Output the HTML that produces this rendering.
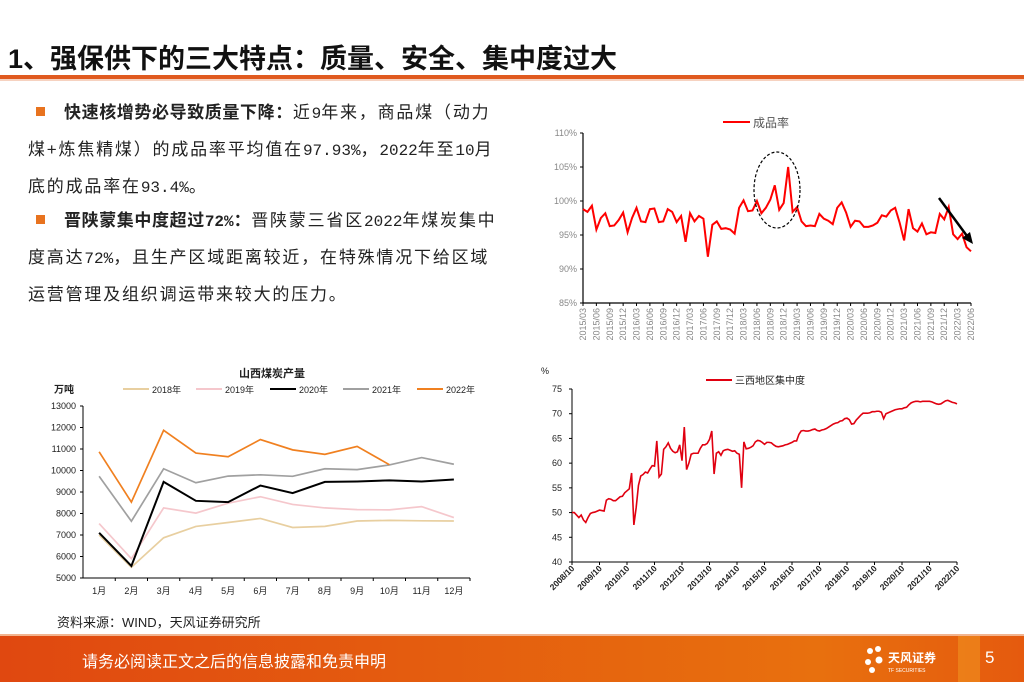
<!DOCTYPE html>
<html><head><meta charset="utf-8"><style>
html,body{margin:0;padding:0;background:#fff;}
#page{position:relative;width:1024px;height:682px;overflow:hidden;font-family:"Liberation Sans","Noto Sans CJK SC",sans-serif;}
.title{position:absolute;left:8px;top:37px;font-size:27px;font-weight:bold;color:#111;letter-spacing:0;}
.rule{position:absolute;left:0;top:75px;width:1024px;height:4px;background:#e05a1f;}
.rule2{position:absolute;left:0;top:79px;width:1024px;height:2px;background:#f6d2c0;}
.txt{position:absolute;left:28px;width:520px;font-size:17px;line-height:35px;color:#222;white-space:nowrap;letter-spacing:1.8px;}
.bul{display:inline-block;width:9px;height:9px;background:#e8731f;margin:0 19px 2px 8px;}
.n{font-family:"Liberation Mono",monospace;font-size:16px;letter-spacing:0;}
b{font-weight:bold;letter-spacing:0.6px;}
.src{position:absolute;left:57px;top:612px;font-size:13px;color:#222;}
.foot{position:absolute;left:0;top:636px;width:1024px;height:46px;background:linear-gradient(90deg,#e04810,#e8700e 80%,#e55a0e);}
.footline{position:absolute;left:0;top:634px;width:1024px;height:2px;background:#f2b48f;}
.foottxt{position:absolute;left:82px;top:648px;font-size:16px;color:#fff;}
.pg{position:absolute;left:985px;top:648px;font-size:17px;color:#fff;}
.blk{position:absolute;left:958px;top:636px;width:22px;height:46px;background:#ee8a1c;opacity:.7;}
</style></head><body>
<div id="page">
<div class="title">1、强保供下的三大特点：质量、安全、集中度过大</div>
<div class="rule"></div>
<div class="rule2"></div>
<div class="txt" style="top:95px"><span class="bul"></span><b>快速核增势必导致质量下降：</b>近<span class="n">9</span>年来，商品煤（动力<br>煤+炼焦精煤）的成品率平均值在<span class="n">97.93%</span>，<span class="n">2022</span>年至<span class="n">10</span>月<br>底的成品率在<span class="n">93.4%</span>。</div>
<div class="txt" style="top:203px"><span class="bul"></span><b>晋陕蒙集中度超过<span class="n">72%</span>：</b>晋陕蒙三省区<span class="n">2022</span>年煤炭集中<br>度高达<span class="n">72%</span>，且生产区域距离较近，在特殊情况下给区域<br>运营管理及组织调运带来较大的压力。</div>
<svg id="charts" width="1024" height="682" style="position:absolute;left:0;top:0"></svg>
<div class="src">资料来源：WIND，天风证券研究所</div>
<div class="footline"></div>
<div class="foot"></div>
<div class="blk"></div>
<div class="foottxt">请务必阅读正文之后的信息披露和免责申明</div>
<svg style="position:absolute;left:862px;top:642px" width="80" height="36">
<circle cx="8" cy="9" r="3" fill="#fff"/><circle cx="16" cy="7" r="3" fill="#fff"/><circle cx="6" cy="20" r="3" fill="#fff"/><circle cx="17" cy="18" r="3.5" fill="#fff"/><circle cx="10" cy="28" r="3" fill="#fff"/>
<text x="26" y="20" font-size="12" fill="#fff" font-weight="bold" font-family="Liberation Sans,Noto Sans CJK SC,sans-serif">天风证券</text>
<text x="26" y="30" font-size="5" fill="#fff" font-family="Liberation Sans,sans-serif">TF SECURITIES</text></svg>
<div class="pg">5</div>
</div>
<script>
// ---- chart 1: 成品率 ----
const yieldStart = [2015, 3];
const yieldValues = [98.8,98.4,99.3,95.8,97.5,98.2,96.3,96.4,97.2,98.3,95.4,97.5,99.0,97.0,96.9,98.8,98.9,96.9,97.0,98.8,98.4,96.9,97.8,94.0,98.2,97.0,97.8,97.4,91.8,96.5,97.0,95.9,96.0,95.8,95.2,99.0,100.1,98.5,98.6,100.0,98.2,99.0,100.2,102.3,98.7,99.7,105.0,98.4,99.1,97.0,96.3,96.4,96.3,98.1,97.4,97.1,96.6,99.0,99.8,98.3,96.2,97.1,97.0,96.2,96.2,96.4,96.8,97.9,97.7,98.6,99.0,96.8,94.2,98.8,96.0,95.5,96.7,95.1,95.4,95.3,98.1,97.3,99.1,95.1,94.4,95.2,93.2,92.6];
const yieldTicks = [85,90,95,100,105,110];
// ---- chart 2: 山西煤炭产量 ----
const months = ["1月","2月","3月","4月","5月","6月","7月","8月","9月","10月","11月","12月"];
const seriesNames = ["2018年","2019年","2020年","2021年","2022年"];
const s2018 = [7000,5500,6870,7400,7580,7770,7350,7400,7650,7680,7660,7650];
const s2019 = [7530,5900,8260,8020,8480,8780,8420,8260,8180,8170,8320,7810];
const s2020 = [7100,5560,9470,8590,8530,9300,8950,9470,9490,9540,9490,9580];
const s2021 = [9730,7640,10080,9430,9740,9800,9730,10080,10040,10260,10600,10290];
const s2022 = [10870,8530,11870,10810,10640,11440,10960,10750,11120,10270];
const outputTicks = [5000,6000,7000,8000,9000,10000,11000,12000,13000];
// ---- chart 3: 三西地区集中度 ----
const concStart = [2008, 10];
const concValues = [50,50,49.5,49,49.5,48.5,48,49,49.8,50,50.1,50.3,
50.5,50.4,50.3,52.5,52.8,52.7,52.4,52.4,52.8,53.2,53.3,54.0,
54.4,54.8,58.0,47.5,51,55.5,57.4,57.7,58.2,58.0,58.8,59.5,
59.4,64.5,57.2,57.8,62.8,63.3,64.1,63.0,62.4,62.1,62.3,63.7,
60.5,67.3,58.7,60.0,61.8,62.0,62.0,62.0,63.0,63.7,63.7,64.0,
64.8,66.5,57.8,62.0,62.3,61.6,62.5,62.7,62.8,62.6,62.4,62.5,
62.0,61.8,55.0,64.3,62.9,63.0,63.2,63.5,64.3,64.6,64.5,64.2,
63.8,64.2,64.2,64.1,63.7,63.4,63.3,63.4,63.5,63.7,63.8,64.0,
64.2,64.5,64.5,65.8,66.5,66.6,66.5,66.5,66.6,66.8,66.9,66.6,
66.5,66.7,66.8,67.0,67.3,67.6,67.9,68.1,68.2,68.5,68.6,69.0,
69.1,68.8,67.9,68.0,68.7,69.2,69.7,70.1,70.1,70.1,70.2,70.4,
70.4,70.5,70.5,70.3,69.0,70.0,70.2,70.4,70.6,70.8,70.9,71.0,
71.0,71.2,71.3,71.8,72.2,72.4,72.5,72.5,72.4,72.5,72.5,72.5,
72.5,72.4,72.2,72.0,71.9,72.0,72.3,72.6,72.7,72.5,72.3,72.2,72.0];
const concTicks = [40,45,50,55,60,65,70,75];

const svg = document.getElementById('charts');
const NS = 'http://www.w3.org/2000/svg';
function mk(tag, attrs, parent){const e=document.createElementNS(NS,tag);for(const k in attrs)e.setAttribute(k,attrs[k]);(parent||svg).appendChild(e);return e;}
function txt(x,y,s,attrs){const t=mk('text',Object.assign({x:x,y:y,'font-family':'Liberation Sans, Noto Sans CJK SC, sans-serif'},attrs||{}));t.textContent=s;return t;}
const pad=n=>(n<10?'0':'')+n;

// Chart 1
(function(){
  const x0=583,x1=971,yTop=133,yBot=303;
  const X=i=>x0+(x1-x0)*i/(yieldValues.length-1);
  const Y=v=>yBot-(v-85)/(110-85)*(yBot-yTop);
  const g=mk('g',{});
  
  
  mk('line',{x1:x0,y1:yTop,x2:x0,y2:yBot,stroke:'#000','stroke-width':1.2},g);
  mk('line',{x1:x0,y1:yBot,x2:x1,y2:yBot,stroke:'#000','stroke-width':1.2},g);
  yieldTicks.forEach(v=>{mk('line',{x1:x0-3,y1:Y(v),x2:x0,y2:Y(v),stroke:'#000'},g);
    const t=txt(x0-6,Y(v)+3,v+'%',{'font-size':9,fill:'#888','text-anchor':'end'});g.appendChild(t);
    });
  for(let i=0;i<yieldValues.length;i+=3){
    const m=yieldStart[1]-1+i, yr=yieldStart[0]+Math.floor(m/12), mo=m%12+1;
    const x=X(i);
    mk('line',{x1:x,y1:yBot,x2:x,y2:yBot+3,stroke:'#000'},g);
    const t=txt(0,0,yr+'/'+pad(mo),{'font-size':9,fill:'#888','text-anchor':'end',transform:`translate(${x+3},${yBot+5}) rotate(-90)`});
    g.appendChild(t);
  }
  const p=mk('polyline',{points:yieldValues.map((v,i)=>X(i)+','+Y(v)).join(' '),fill:'none',stroke:'#f00','stroke-width':2},g);
  
  mk('line',{x1:723,y1:122,x2:750,y2:122,stroke:'#f00','stroke-width':2},g);
  const lt=txt(753,127,'成品率',{'font-size':12,fill:'#555'});g.appendChild(lt);
  
  const el=mk('ellipse',{cx:777,cy:190,rx:23,ry:38,fill:'none',stroke:'#000','stroke-dasharray':'3,2','stroke-width':1.2},g);
  
  mk('line',{x1:939,y1:198,x2:967,y2:236,stroke:'#000','stroke-width':2.5},g);
  const ah=mk('polygon',{points:'973,244 962,238 970,232',fill:'#000'},g);
  
})();

// Chart 2
(function(){
  const x0=83,x1=470,yTop=406,yBot=578;
  const bw=(x1-x0)/12;
  const X=i=>x0+bw*(i+0.5);
  const Y=v=>yBot-(v-5000)/8000*(yBot-yTop);
  const g=mk('g',{});
  
  
  const tt=txt(272,377,'山西煤炭产量',{'font-size':11,'font-weight':'bold',fill:'#222','text-anchor':'middle'});g.appendChild(tt);
  
  const ut=txt(54,393,'万吨',{'font-size':10,'font-weight':'bold',fill:'#222'});g.appendChild(ut);
  
  mk('line',{x1:x0,y1:yTop,x2:x0,y2:yBot,stroke:'#000'},g);
  mk('line',{x1:x0,y1:yBot,x2:x1,y2:yBot,stroke:'#000'},g);
  outputTicks.forEach(v=>{mk('line',{x1:x0-3,y1:Y(v),x2:x0,y2:Y(v),stroke:'#000'},g);
    const t=txt(x0-7,Y(v)+3,String(v),{'font-size':9,fill:'#222','text-anchor':'end'});g.appendChild(t);
    });
  months.forEach((m,i)=>{mk('line',{x1:x0+bw*(i+1),y1:yBot,x2:x0+bw*(i+1),y2:yBot+3,stroke:'#000'},g);
    const t=txt(X(i),594,m,{'font-size':9,fill:'#222','text-anchor':'middle'});g.appendChild(t);
    });
  const all=[s2018,s2019,s2020,s2021,s2022];
  const cols=['#e8cfa0','#f5c7cc','#000','#a0a0a0','#f08020'];
  const lx=[123,196,270,343,417];
  all.forEach((s,k)=>{
    const p=mk('polyline',{points:s.map((v,i)=>X(i)+','+Y(v)).join(' '),fill:'none',stroke:cols[k],'stroke-width':k==2?2:1.7},g);
    
    mk('line',{x1:lx[k],y1:389,x2:lx[k]+26,y2:389,stroke:cols[k],'stroke-width':2},g);
    const t=txt(lx[k]+29,393,seriesNames[k],{'font-size':9,fill:'#222'});g.appendChild(t);
    
  });
})();

// Chart 3
(function(){
  const x0=572,yTop=389,yBot=562;
  const perMonth=(957-572)/168;
  const X=i=>x0+perMonth*i;
  const Y=v=>yBot-(v-40)/35*(yBot-yTop);
  const g=mk('g',{});
  
  
  const pt=txt(541,374,'%',{'font-size':9,fill:'#222'});g.appendChild(pt);
  
  mk('line',{x1:x0,y1:yTop,x2:x0,y2:yBot,stroke:'#000'},g);
  mk('line',{x1:x0,y1:yBot,x2:X(concValues.length-1),y2:yBot,stroke:'#000'},g);
  concTicks.forEach(v=>{mk('line',{x1:x0-3,y1:Y(v),x2:x0,y2:Y(v),stroke:'#000'},g);
    const t=txt(x0-10,Y(v)+3,String(v),{'font-size':9,fill:'#222','text-anchor':'end'});g.appendChild(t);
    });
  for(let i=0;i<concValues.length;i+=12){
    const yr=concStart[0]+i/12;const x=X(i);
    mk('line',{x1:x,y1:yBot,x2:x,y2:yBot+3,stroke:'#000'},g);
    const t=txt(0,0,yr+'/'+pad(concStart[1]),{'font-size':8.5,'font-weight':'bold',fill:'#222','text-anchor':'end',transform:`translate(${x+3},${yBot+7}) rotate(-45)`});
    g.appendChild(t);
  }
  const p=mk('polyline',{points:concValues.map((v,i)=>X(i)+','+Y(v)).join(' '),fill:'none',stroke:'#e00010','stroke-width':1.6},g);
  
  mk('line',{x1:706,y1:380,x2:732,y2:380,stroke:'#e00010','stroke-width':2},g);
  const lt=txt(735,384,'三西地区集中度',{'font-size':10,fill:'#222'});g.appendChild(lt);
  
})();
</script>
</body></html>
